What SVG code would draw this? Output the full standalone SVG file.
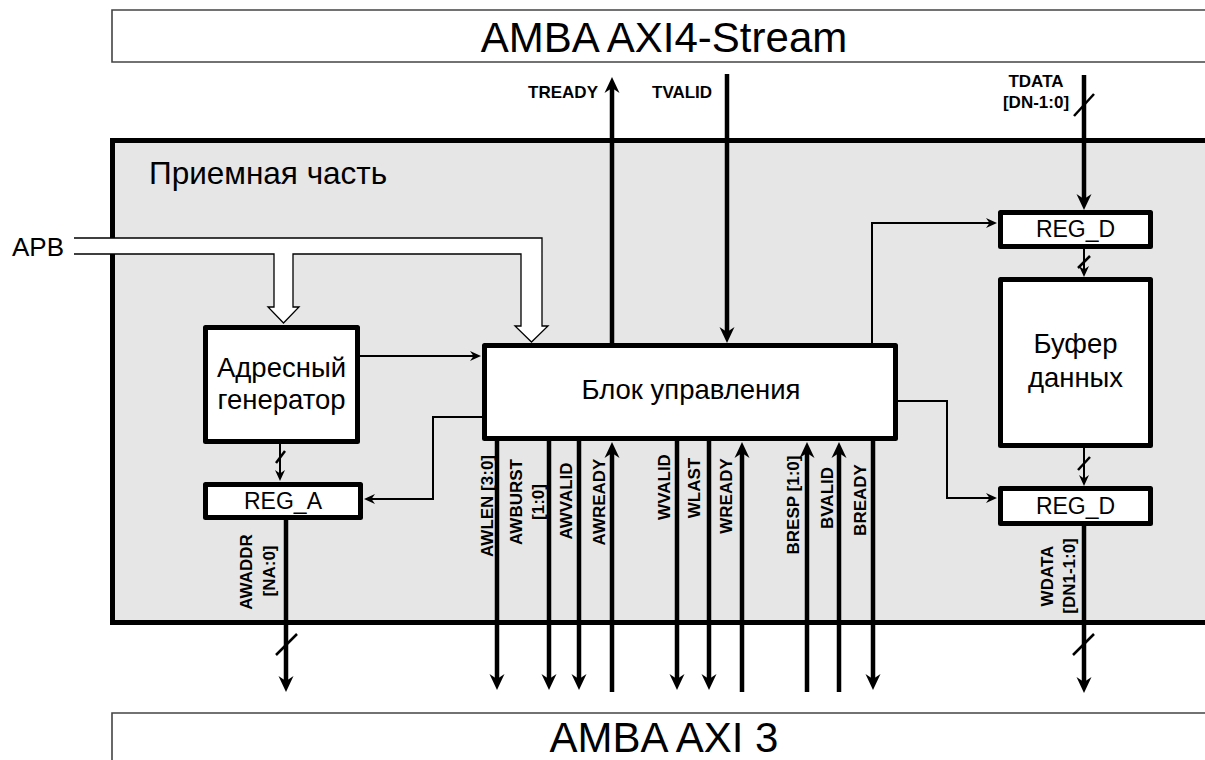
<svg xmlns="http://www.w3.org/2000/svg" width="1205" height="760" viewBox="0 0 1205 760">
<style>
.frame{fill:none;stroke:#444;stroke-width:1.6}
.area{fill:#e6e6e6;stroke:#000;stroke-width:5}
.box{fill:#fff;stroke:#000;stroke-width:5;stroke-linejoin:round}
.big{font-family:"Liberation Sans",Arial,sans-serif;font-size:42px;fill:#000;text-anchor:middle}
.t{font-family:"Liberation Sans",Arial,sans-serif;font-size:27.5px;fill:#000;text-anchor:middle}
.reg{font-family:"Liberation Sans",Arial,sans-serif;font-size:23px;fill:#000;text-anchor:middle}
.lbl{font-family:"Liberation Sans",Arial,sans-serif;font-size:17px;font-weight:bold;fill:#000}
.thick{fill:none;stroke:#000;stroke-width:4.5}
.thin{fill:none;stroke:#000;stroke-width:2}
.slash{fill:none;stroke:#000;stroke-width:2.5}
.bus{fill:#fff;stroke:#000;stroke-width:1.3}
</style>
<defs>
<marker id="ah" viewBox="-17 -8 18 16" refX="-8" refY="0" markerUnits="userSpaceOnUse" markerWidth="18" markerHeight="16" orient="auto">
<path d="M0,0 L-16,-7.5 L-11,0 L-16,7.5 Z" fill="#000"/>
</marker>
<marker id="as" viewBox="-12 -6 13 12" refX="-5" refY="0" markerUnits="userSpaceOnUse" markerWidth="13" markerHeight="12" orient="auto">
<path d="M0,0 L-11,-5 L-7.5,0 L-11,5 Z" fill="#000"/>
</marker>
</defs>

<g id="axi4stream">
<path class="frame" d="M1205,10 H112 V62 H1205"/>
<text class="big" x="664" y="52">AMBA AXI4-Stream</text>
</g>

<g id="axi3">
<path class="frame" d="M112,760 V713 H1205"/>
<text class="big" x="664" y="752">AMBA AXI 3</text>
</g>

<g id="receiver">
<rect class="area" x="112.5" y="140.5" width="1100" height="482"/>
<text x="149" y="184" style="font-family:'Liberation Sans',Arial,sans-serif;font-size:31.5px">Приемная часть</text>
</g>

<g id="apb">
<text x="12" y="256" style="font-family:'Liberation Sans',Arial,sans-serif;font-size:26px">APB</text>
<path class="bus" d="M74,238 H542 V326 H548 L531.5,342 L515,326 H521 V254 H293 V307 H299 L283.5,323 L268,307 H274 V254 H74"/>
</g>

<g id="addr-gen">
<rect class="box" x="205.5" y="327.5" width="152" height="114"/>
<text class="t" x="281.5" y="377">Адресный</text>
<text class="t" x="281.5" y="409">генератор</text>
</g>

<g id="reg-a">
<rect class="box" x="205.5" y="484.5" width="155" height="33"/>
<text class="reg" x="283" y="509">REG_A</text>
</g>

<g id="control">
<rect class="box" x="484.5" y="345.5" width="411" height="93"/>
<text class="t" x="691" y="399">Блок управления</text>
</g>

<g id="reg-d-in">
<rect class="box" x="1000.5" y="212.5" width="150" height="34"/>
<text class="reg" x="1075.5" y="237">REG_D</text>
</g>

<g id="buffer">
<rect class="box" x="1000.5" y="279.5" width="150" height="166"/>
<text class="t" x="1075.5" y="353">Буфер</text>
<text class="t" x="1075.5" y="387">данных</text>
</g>

<g id="reg-d-out">
<rect class="box" x="1000.5" y="488.5" width="150" height="35"/>
<text class="reg" x="1075.5" y="514">REG_D</text>
</g>

<g id="connectors">
<path class="thick" d="M612,343 V85" marker-end="url(#ah)"/>
<path class="thick" d="M727,74 V335" marker-end="url(#ah)"/>
<path class="thick" d="M1084,75 V202" marker-end="url(#ah)"/>
<path class="slash" d="M1074,116 L1094,94"/>
<path class="thin" d="M360,356 H476" marker-end="url(#as)"/>
<path class="thin" d="M484,417 H433 V499 H369" marker-end="url(#as)"/>
<path class="thin" d="M872,343 V223 H992" marker-end="url(#as)"/>
<path class="thin" d="M898,401 H947 V498 H992" marker-end="url(#as)"/>
<path class="thin" d="M280,444 V476" marker-end="url(#as)"/>
<path class="slash" d="M276,463 L285,451"/>
<path class="thin" d="M1084,249 V272" marker-end="url(#as)"/>
<path class="slash" d="M1078,268 L1090,256"/>
<path class="thin" d="M1084,448 V481" marker-end="url(#as)"/>
<path class="slash" d="M1078,470 L1090,457"/>
<path class="thick" d="M286,520 V684" marker-end="url(#ah)"/>
<path class="slash" d="M276,655 L297,634"/>
<path class="thick" d="M1084,526 V685" marker-end="url(#ah)"/>
<path class="slash" d="M1073,655 L1094,634"/>
<path class="thick" d="M497,441 V682" marker-end="url(#ah)"/>
<path class="thick" d="M549,441 V682" marker-end="url(#ah)"/>
<path class="thick" d="M579,441 V682" marker-end="url(#ah)"/>
<path class="thick" d="M612,692 V450" marker-end="url(#ah)"/>
<path class="thick" d="M677,441 V682" marker-end="url(#ah)"/>
<path class="thick" d="M709,441 V682" marker-end="url(#ah)"/>
<path class="thick" d="M742,692 V450" marker-end="url(#ah)"/>
<path class="thick" d="M807,692 V450" marker-end="url(#ah)"/>
<path class="thick" d="M839,692 V450" marker-end="url(#ah)"/>
<path class="thick" d="M873,441 V682" marker-end="url(#ah)"/>
</g>

<g id="labels">
<text class="lbl" x="598" y="98" text-anchor="end">TREADY</text>
<text class="lbl" x="652" y="98">TVALID</text>
<text class="lbl" x="1036" y="87" text-anchor="middle">TDATA</text>
<text class="lbl" x="1036" y="108" text-anchor="middle">[DN-1:0]</text>
<text class="lbl" text-anchor="middle" transform="translate(252,572) rotate(-90)">AWADDR</text>
<text class="lbl" text-anchor="middle" transform="translate(275,571) rotate(-90)">[NA:0]</text>
<text class="lbl" text-anchor="middle" transform="translate(1053,576) rotate(-90)">WDATA</text>
<text class="lbl" text-anchor="middle" transform="translate(1075,576) rotate(-90)">[DN1-1:0]</text>
<text class="lbl" text-anchor="middle" transform="translate(493,506) rotate(-90)">AWLEN [3:0]</text>
<text class="lbl" text-anchor="middle" transform="translate(522,502) rotate(-90)">AWBURST</text>
<text class="lbl" text-anchor="middle" transform="translate(544,502) rotate(-90)">[1:0]</text>
<text class="lbl" text-anchor="middle" transform="translate(572,501) rotate(-90)">AWVALID</text>
<text class="lbl" text-anchor="middle" transform="translate(605,502) rotate(-90)">AWREADY</text>
<text class="lbl" text-anchor="middle" transform="translate(670,487) rotate(-90)">WVALID</text>
<text class="lbl" text-anchor="middle" transform="translate(700,488) rotate(-90)">WLAST</text>
<text class="lbl" text-anchor="middle" transform="translate(732,496) rotate(-90)">WREADY</text>
<text class="lbl" text-anchor="middle" transform="translate(799,505) rotate(-90)">BRESP [1:0]</text>
<text class="lbl" text-anchor="middle" transform="translate(833,498) rotate(-90)">BVALID</text>
<text class="lbl" text-anchor="middle" transform="translate(866,500) rotate(-90)">BREADY</text>
</g>
</svg>
